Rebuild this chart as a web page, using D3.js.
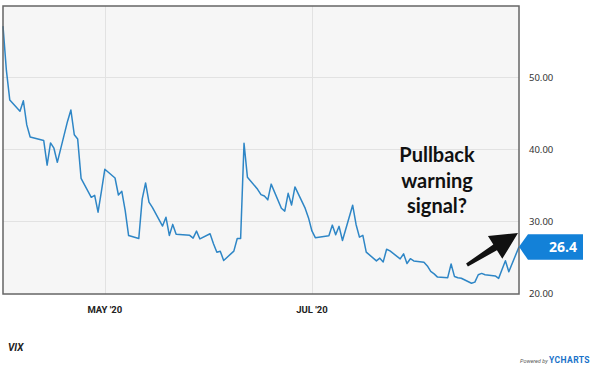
<!DOCTYPE html>
<html>
<head>
<meta charset="utf-8">
<script src="https://cdn.jsdelivr.net/npm/d3@7"></script>
<style>
body { margin: 0; background: #fff; }
svg { display: block; }
</style>
</head>
<body>
<svg id="chart" width="600" height="371"></svg>
<script>
// VIX daily close, Apr 1 - Aug 31 2020
var dates = ["2020-04-01","2020-04-02","2020-04-03","2020-04-06","2020-04-07","2020-04-08","2020-04-09",
  "2020-04-13","2020-04-14","2020-04-15","2020-04-16","2020-04-17","2020-04-20","2020-04-21","2020-04-22",
  "2020-04-23","2020-04-24","2020-04-27","2020-04-28","2020-04-29","2020-04-30","2020-05-01","2020-05-04",
  "2020-05-05","2020-05-06","2020-05-07","2020-05-08","2020-05-11","2020-05-12","2020-05-13","2020-05-14",
  "2020-05-15","2020-05-18","2020-05-19","2020-05-20","2020-05-21","2020-05-22","2020-05-26","2020-05-27",
  "2020-05-28","2020-05-29","2020-06-01","2020-06-02","2020-06-03","2020-06-04","2020-06-05","2020-06-08",
  "2020-06-09","2020-06-10","2020-06-11","2020-06-12","2020-06-15","2020-06-16","2020-06-17","2020-06-18",
  "2020-06-19","2020-06-22","2020-06-23","2020-06-24","2020-06-25","2020-06-26","2020-06-29","2020-06-30",
  "2020-07-01","2020-07-02","2020-07-06","2020-07-07","2020-07-08","2020-07-09","2020-07-10","2020-07-13",
  "2020-07-14","2020-07-15","2020-07-16","2020-07-17","2020-07-20","2020-07-21","2020-07-22","2020-07-23",
  "2020-07-24","2020-07-27","2020-07-28","2020-07-29","2020-07-30","2020-07-31","2020-08-03","2020-08-04",
  "2020-08-05","2020-08-06","2020-08-07","2020-08-10","2020-08-11","2020-08-12","2020-08-13","2020-08-14",
  "2020-08-17","2020-08-18","2020-08-19","2020-08-20","2020-08-21","2020-08-24","2020-08-25","2020-08-26",
  "2020-08-27","2020-08-28","2020-08-31"]
var vix = [57.06,50.91,46.80,45.24,46.70,43.35,41.67,
  41.17,37.76,40.84,40.11,38.15,43.83,45.41,41.98,
  41.38,35.93,33.29,33.57,31.23,34.15,37.19,35.97,
  33.61,34.12,31.44,27.98,27.57,33.04,35.28,32.61,
  31.89,29.30,30.53,27.99,29.53,28.16,28.01,27.62,
  28.59,27.51,28.23,26.84,25.66,25.81,24.52,25.81,
  27.57,27.57,40.79,36.09,34.40,33.67,33.47,32.94,
  35.12,31.77,31.37,33.84,32.22,34.73,31.78,30.43,
  28.62,27.68,27.94,29.43,28.08,29.26,27.29,32.19,
  29.52,27.76,28.00,25.68,24.46,24.84,24.32,26.08,
  25.84,24.74,25.44,24.10,24.76,24.46,24.28,23.76,
  22.99,22.65,22.21,22.13,24.03,22.28,22.13,22.05,
  21.35,21.51,22.54,22.72,22.54,22.37,22.03,23.27,
  24.47,22.96,26.41]
var yTicks = [20, 30, 40, 50]
var xTicks = ["2020-05-01", "2020-07-01"]
var xTickLabels = ["MAY '20", "JUL '20"]
var lastLabel = "26.4"
var noteLines = ["Pullback", "warning", "signal?"]
var seriesName = "VIX"

var parse = d3.timeParse("%Y-%m-%d")
var data = dates.map(function(d, i) { return {date: parse(d), value: vix[i]} })

// plot box (note: "top" is reserved on window, so use other names)
var plotL = 3, plotR = 519, plotT = 6, plotB = 294
var svg = d3.select("#chart")

var x = d3.scaleTime()
  .domain([parse("2020-04-01"), parse("2020-08-31")])
  .range([plotL, plotR])
var y = d3.scaleLinear()
  .domain([20, 60])
  .range([293, 5])

// plot background
svg.append("rect")
  .attr("x", plotL).attr("y", plotT)
  .attr("width", plotR - plotL).attr("height", plotB - plotT)
  .attr("fill", "#f6f6f6")

// grid
svg.selectAll(".hgrid").data(yTicks.slice(1)).enter().append("line")
  .attr("x1", plotL).attr("x2", plotR)
  .attr("y1", function(d) { return Math.round(y(d)) + 0.5 })
  .attr("y2", function(d) { return Math.round(y(d)) + 0.5 })
  .attr("stroke", "#e2e2e2").attr("stroke-width", 1)
svg.selectAll(".vgrid").data(xTicks).enter().append("line")
  .attr("x1", function(d) { return Math.round(x(parse(d))) + 0.5 })
  .attr("x2", function(d) { return Math.round(x(parse(d))) + 0.5 })
  .attr("y1", plotT).attr("y2", plotB)
  .attr("stroke", "#e2e2e2").attr("stroke-width", 1)

// series line
var line = d3.line()
  .x(function(d) { return x(d.date) })
  .y(function(d) { return y(d.value) })
svg.append("path")
  .datum(data)
  .attr("d", line)
  .attr("fill", "none")
  .attr("stroke", "#2e86c6")
  .attr("stroke-width", 1.5)
  .attr("stroke-linejoin", "round")

// frame
svg.append("rect")
  .attr("x", plotL).attr("y", plotT)
  .attr("width", plotR - plotL).attr("height", plotB - plotT)
  .attr("fill", "none")
  .attr("stroke", "#666").attr("stroke-width", 1.5)

// right axis labels
svg.selectAll(".ylab").data(yTicks).enter().append("text")
  .attr("x", 529)
  .attr("y", function(d) { return y(d) + 4 })
  .attr("font-family", "Noto Sans, sans-serif")
  .attr("font-size", 9.5)
  .attr("fill", "#333")
  .text(function(d) { return d3.format(".2f")(d) })

// bottom axis labels
svg.selectAll(".xlab").data(xTicks).enter().append("text")
  .attr("x", function(d) { return x(parse(d)) })
  .attr("y", 313)
  .attr("text-anchor", "middle")
  .attr("font-family", "Roboto, sans-serif")
  .attr("font-weight", "bold")
  .attr("font-size", 9.5)
  .attr("fill", "#222")
  .text(function(d, i) { return xTickLabels[i] })

// last value flag
var last = data[data.length - 1]
var lx = x(last.date), ly = y(last.value)
svg.append("path")
  .attr("d", "M" + lx + "," + ly + "L" + (lx + 9) + "," + (ly - 12.5) + "H583V" + (ly + 13) + "H" + (lx + 9) + "Z")
  .attr("fill", "#1381d8")
svg.append("text")
  .attr("x", 577).attr("y", ly + 5)
  .attr("text-anchor", "end")
  .attr("font-family", "Open Sans, sans-serif")
  .attr("font-weight", "bold")
  .attr("font-size", 14)
  .attr("fill", "#fff")
  .text(lastLabel)

// annotation
svg.selectAll(".note").data(noteLines).enter().append("text")
  .attr("x", 437)
  .attr("y", function(d, i) { return 162 + i * 25.5 })
  .attr("text-anchor", "middle")
  .attr("font-family", "Lato, sans-serif")
  .attr("font-weight", "bold")
  .attr("font-size", 20)
  .attr("fill", "#111")
  .text(function(d) { return d })

// arrow pointing at the last value
var tail = [467, 265], tip = [518, 233]
var dx = tip[0] - tail[0], dy = tip[1] - tail[1]
var len = Math.sqrt(dx * dx + dy * dy)
var ux = dx / len, uy = dy / len, px = -uy, py = ux
var headLen = 27, headW = 13.5, shaftW = 3.4
var bx = tip[0] - ux * headLen, by = tip[1] - uy * headLen
var pts = [
  [tail[0] + px * shaftW * 0.5, tail[1] + py * shaftW * 0.5],
  [bx + px * shaftW, by + py * shaftW],
  [bx + px * headW, by + py * headW],
  tip,
  [bx - px * headW, by - py * headW],
  [bx - px * shaftW, by - py * shaftW],
  [tail[0] - px * shaftW * 0.5, tail[1] - py * shaftW * 0.5]
]
svg.append("path")
  .attr("d", "M" + pts.map(function(p) { return p.join(",") }).join("L") + "Z")
  .attr("fill", "#111")

// footer
svg.append("text")
  .attr("x", 8).attr("y", 351)
  .attr("font-family", "Roboto, sans-serif")
  .attr("font-weight", "bold")
  .attr("font-style", "italic")
  .attr("font-size", 10)
  .attr("fill", "#222")
  .text(seriesName)
var pw = svg.append("text")
  .attr("x", 590).attr("y", 363)
  .attr("text-anchor", "end")
pw.append("tspan")
  .attr("font-family", "Roboto, sans-serif")
  .attr("font-style", "italic")
  .attr("font-size", 5.5)
  .attr("fill", "#555")
  .text("Powered by ")
pw.append("tspan")
  .attr("font-family", "Roboto, sans-serif")
  .attr("font-weight", "bold")
  .attr("font-size", 8.5)
  .attr("letter-spacing", 0.4)
  .attr("fill", "#1a72c9")
  .text("YCHARTS")
</script>
</body>
</html>
